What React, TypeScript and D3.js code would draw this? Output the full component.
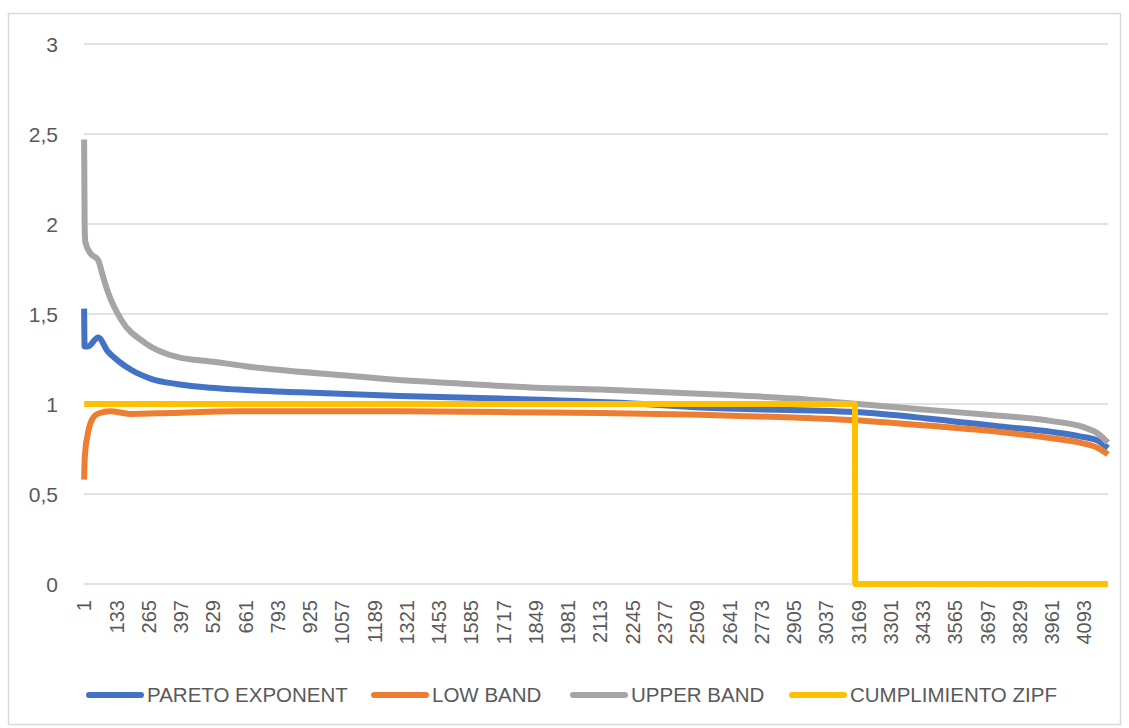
import React from 'react';
import * as d3 from 'd3';

const N_CATEGORIES = 4190;

const X_TICK_LABELS = [
  1, 133, 265, 397, 529, 661, 793, 925, 1057, 1189, 1321, 1453, 1585, 1717, 1849, 1981,
  2113, 2245, 2377, 2509, 2641, 2773, 2905, 3037, 3169, 3301, 3433, 3565, 3697, 3829, 3961, 4093,
];

const Y_TICKS = [0, 0.5, 1, 1.5, 2, 2.5, 3];

const PARETO_IDX = [1, 3, 17, 58, 99, 140, 193, 275, 385, 520, 631, 884, 1293, 1703, 2288, 2521, 3155, 3450, 3748, 3961, 4076, 4150, 4190];
const PARETO_VAL = [1.53, 1.32, 1.32, 1.37, 1.29, 1.24, 1.19, 1.14, 1.11, 1.09, 1.08, 1.065, 1.045, 1.03, 1.0, 0.98, 0.955, 0.92, 0.875, 0.845, 0.82, 0.795, 0.755];

// LOW BAND
const LOW_IDX = [1, 4, 17, 41, 66, 107, 189, 352, 631, 1293, 1703, 2113, 2521, 2905, 3155, 3450, 3748, 3961, 4076, 4150, 4190];
const LOW_VAL = [0.58, 0.71, 0.84, 0.93, 0.95, 0.96, 0.945, 0.95, 0.96, 0.96, 0.955, 0.95, 0.94, 0.925, 0.91, 0.88, 0.845, 0.81, 0.785, 0.755, 0.72];

// UPPER BAND
const UPPER_IDX = [1, 3, 6, 25, 58, 78, 99, 152, 250, 385, 529, 661, 793, 1057, 1321, 1585, 1849, 2113, 2377, 2641, 2905, 3169, 3433, 3697, 3961, 4093, 4150, 4190];
const UPPER_VAL = [2.47, 2.0, 1.9, 1.84, 1.8, 1.71, 1.62, 1.47, 1.34, 1.26, 1.235, 1.21, 1.19, 1.16, 1.13, 1.11, 1.09, 1.08, 1.065, 1.05, 1.03, 1.0, 0.97, 0.94, 0.905, 0.87, 0.835, 0.785];

// CUMPLIMIENTO ZIPF
const ZIPF_IDX = [1, 3155, 3156, 4190];
const ZIPF_VAL = [1, 1, 0, 0];

const SERIES = [
  { name: 'PARETO EXPONENT', color: '#4472C4', idx: PARETO_IDX, val: PARETO_VAL },
  { name: 'LOW BAND', color: '#ED7D31', idx: LOW_IDX, val: LOW_VAL },
  { name: 'UPPER BAND', color: '#A5A5A5', idx: UPPER_IDX, val: UPPER_VAL },
  { name: 'CUMPLIMIENTO ZIPF', color: '#FFC000', idx: ZIPF_IDX, val: ZIPF_VAL },
];

const LEGEND_X = [86, 371, 570, 789];

export default function App() {
  const W = 1129;
  const H = 728;
  const left = 84;
  const right = 1108;
  const top = 44;
  const bottom = 584;

  const x = d3.scaleLinear().domain([0.5, N_CATEGORIES + 0.5]).range([left, right]);
  const y = d3.scaleLinear().domain([0, 3]).range([bottom, top]);

  const line = d3
    .line<[number, number]>()
    .x((d) => x(d[0]))
    .y((d) => y(d[1]))
    .curve(d3.curveMonotoneX);

  const font = "'Liberation Sans', Arial, sans-serif";
  const textColor = '#595959';

  return (
    <svg
      width={W}
      height={H}
      style={{ position: 'absolute', left: 0, top: 0, background: '#fff' }}
    >
      <rect x={8.5} y={13.5} width={1112} height={711} fill="#fff" stroke="#d9d9d9" strokeWidth={1.5} />
      {Y_TICKS.map((t) => (
        <g key={t}>
          <line x1={left} x2={right} y1={y(t)} y2={y(t)} stroke="#d9d9d9" strokeWidth={1.5} />
          <text
            x={58}
            y={y(t)}
            dy="0.36em"
            textAnchor="end"
            fontFamily={font}
            fontSize={21}
            fill={textColor}
          >
            {String(t).replace('.', ',')}
          </text>
        </g>
      ))}
      {X_TICK_LABELS.map((c) => (
        <text
          key={c}
          transform={`translate(${x(c)},600) rotate(-90)`}
          dy="0.36em"
          textAnchor="end"
          fontFamily={font}
          fontSize={20}
          fill={textColor}
        >
          {c}
        </text>
      ))}
      {SERIES.map((s) => (
        <path
          key={s.name}
          d={line(s.idx.map((c, i) => [c, s.val[i]] as [number, number])) || ''}
          fill="none"
          stroke={s.color}
          strokeWidth={6}
          strokeLinejoin="round"
        />
      ))}
      {SERIES.map((s, i) => (
        <g key={s.name} transform={`translate(${LEGEND_X[i]},695)`}>
          <line x1={3} x2={55} y1={0} y2={0} stroke={s.color} strokeWidth={6} strokeLinecap="round" />
          <text x={61} y={0} dy="0.36em" fontFamily={font} fontSize={20.5} fill={textColor}>
            {s.name}
          </text>
        </g>
      ))}
    </svg>
  );
}
